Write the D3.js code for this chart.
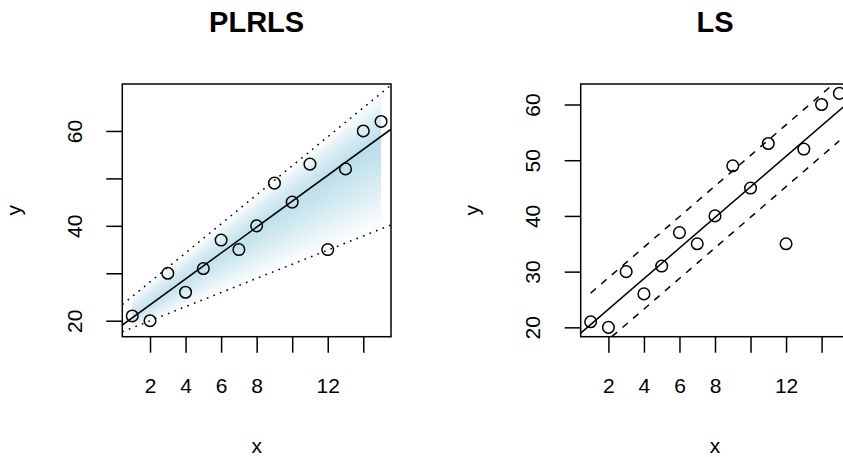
<!DOCTYPE html>
<html>
<head>
<meta charset="utf-8">
<script src="https://cdn.jsdelivr.net/npm/d3@7"></script>
<style>
  html, body { margin: 0; padding: 0; background: #fff; }
  svg { display: block; }
  text { font-family: "Liberation Sans", Arial, Helvetica, sans-serif; fill: #000; }
</style>
</head>
<body>
<svg id="chart" width="843" height="457"></svg>
<script>
// ---------------- data ----------------
const xVals = [1, 2, 3, 4, 5, 6, 7, 8, 9, 10, 11, 12, 13, 14, 15];
const yVals = [21, 20, 30, 26, 31, 37, 35, 40, 49, 45, 53, 35, 52, 60, 62];

const xTicks = [2, 4, 6, 8, 10, 12, 14];
const xTickLabels = ["2", "4", "6", "8", "", "12", ""];

const plrlsYTicks = [20, 30, 40, 50, 60];
const plrlsYTickLabels = ["20", "", "40", "", "60"];
const lsYTicks = [20, 30, 40, 50, 60];
const lsYTickLabels = ["20", "30", "40", "50", "60"];

// lines as [intercept, slope]
const plrlsCenter = [17.89, 2.73];
const plrlsUpper = [22.05, 3.06];
const plrlsLower = [17.0, 1.49];
const lsFit = [17.76, 2.746];
const lsUpper = [23.4, 2.746];
const lsLower = [12.3, 2.746];
const bandRange = [1, 15];

const titles = ["PLRLS", "LS"];
const xDomain = [0.44, 15.56];
const plrlsYDomain = [16.63, 69.9];
const lsYDomain = [18.32, 63.68];

// ---------------- layout ----------------
const svg = d3.select("#chart");
svg.append("rect").attr("width", 843).attr("height", 457).attr("fill", "#fff");

const plotTop = 84, plotBottom = 336.7;
const panels = [
  { left: 122.3, right: 391, yDomain: plrlsYDomain, yTicks: plrlsYTicks, yLabels: plrlsYTickLabels, title: titles[0], kind: "plrls" },
  { left: 580.7, right: 849.3, yDomain: lsYDomain, yTicks: lsYTicks, yLabels: lsYTickLabels, title: titles[1], kind: "ls" }
];

const lineAt = (c, xv) => c[0] + c[1] * xv;
const tickLen = 16;
const axisFont = 21;
const lw = 1.5;

panels.forEach((p, i) => {
  const x = d3.scaleLinear().domain(xDomain).range([p.left, p.right]);
  const y = d3.scaleLinear().domain(p.yDomain).range([plotBottom, plotTop]);
  const g = svg.append("g");
  const clipId = "clip" + i;
  svg.append("defs").append("clipPath").attr("id", clipId)
    .append("rect").attr("x", p.left).attr("y", plotTop)
    .attr("width", p.right - p.left).attr("height", plotBottom - plotTop);
  const inner = g.append("g").attr("clip-path", `url(#${clipId})`);
  const seg = (c, x0, x1) => d3.line()([[x(x0), y(lineAt(c, x0))], [x(x1), y(lineAt(c, x1))]]);

  if (p.kind === "plrls") {
    // fuzzy shading: linear membership fade from center line to each spread line
    const N = 60;
    const shade = inner.append("g");
    [plrlsUpper, plrlsLower].forEach(edge => {
      for (let k = 0; k < N; k++) {
        const f0 = k / N, f1 = (k + 1) / N;
        const pt = (xv, f) => {
          const c = lineAt(plrlsCenter, xv), e = lineAt(edge, xv);
          return [x(xv), y(c + (e - c) * f)];
        };
        const poly = [pt(bandRange[0], f0), pt(bandRange[1], f0), pt(bandRange[1], f1), pt(bandRange[0], f1)];
        shade.append("path")
          .attr("d", d3.line()(poly) + "Z")
          .attr("fill", "#add8e6")
          .attr("fill-opacity", 1 - (f0 + f1) / 2);
      }
    });
    [plrlsUpper, plrlsLower].forEach(c => {
      inner.append("path").attr("d", seg(c, xDomain[0], xDomain[1]))
        .attr("stroke", "#000").attr("stroke-width", lw).attr("fill", "none")
        .attr("stroke-dasharray", "1.7,5.3");
    });
    inner.append("path").attr("d", seg(plrlsCenter, xDomain[0], xDomain[1]))
      .attr("stroke", "#000").attr("stroke-width", lw).attr("fill", "none");
  } else {
    [lsUpper, lsLower].forEach(c => {
      inner.append("path").attr("d", seg(c, bandRange[0], bandRange[1]))
        .attr("stroke", "#000").attr("stroke-width", lw).attr("fill", "none")
        .attr("stroke-dasharray", "7,7");
    });
    inner.append("path").attr("d", seg(lsFit, xDomain[0], xDomain[1]))
      .attr("stroke", "#000").attr("stroke-width", lw).attr("fill", "none");
  }

  // points
  g.selectAll("circle.pt").data(xVals.map((xv, j) => [xv, yVals[j]])).enter()
    .append("circle").attr("class", "pt")
    .attr("cx", d => x(d[0])).attr("cy", d => y(d[1])).attr("r", 5.8)
    .attr("fill", "none").attr("stroke", "#000").attr("stroke-width", 1.5);

  // box
  g.append("rect").attr("x", p.left).attr("y", plotTop)
    .attr("width", p.right - p.left).attr("height", plotBottom - plotTop)
    .attr("fill", "none").attr("stroke", "#000").attr("stroke-width", lw);

  // x axis
  const xAxis = d3.axisBottom(x).tickValues(xTicks)
    .tickFormat((d, j) => xTickLabels[j]).tickSize(tickLen);
  const xa = g.append("g").attr("transform", `translate(0,${plotBottom})`).call(xAxis);
  xa.attr("font-family", null).attr("font-size", null);
  xa.select(".domain").remove();
  xa.selectAll("line").attr("stroke", "#000").attr("stroke-width", lw);
  xa.selectAll("text").attr("font-size", axisFont).attr("dy", null)
    .attr("y", 393.3 - plotBottom).attr("fill", "#000");

  // y axis
  const yAxis = d3.axisLeft(y).tickValues(p.yTicks)
    .tickFormat((d, j) => p.yLabels[j]).tickSize(tickLen);
  const ya = g.append("g").attr("transform", `translate(${p.left},0)`).call(yAxis);
  ya.attr("font-family", null).attr("font-size", null);
  ya.select(".domain").remove();
  ya.selectAll("line").attr("stroke", "#000").attr("stroke-width", lw);
  ya.selectAll(".tick text")
    .attr("x", null).attr("dy", null).attr("y", null)
    .attr("text-anchor", "middle").attr("fill", "#000")
    .attr("font-size", axisFont)
    .attr("transform", `translate(${81.7 - 122.3},0) rotate(-90)`);

  // titles
  const cx = (p.left + p.right) / 2;
  svg.append("text").attr("x", cx).attr("y", 32).attr("text-anchor", "middle")
    .attr("font-size", 29).attr("font-weight", "bold").text(p.title);
  svg.append("text").attr("x", cx).attr("y", 452.6).attr("text-anchor", "middle")
    .attr("font-size", axisFont).text("x");
  const yMid = (plotTop + plotBottom) / 2;
  svg.append("text").attr("transform", `translate(${p.left - (122.3 - 21)},${yMid}) rotate(-90)`)
    .attr("text-anchor", "middle").attr("font-size", axisFont).text("y");
});
</script>
</body>
</html>
